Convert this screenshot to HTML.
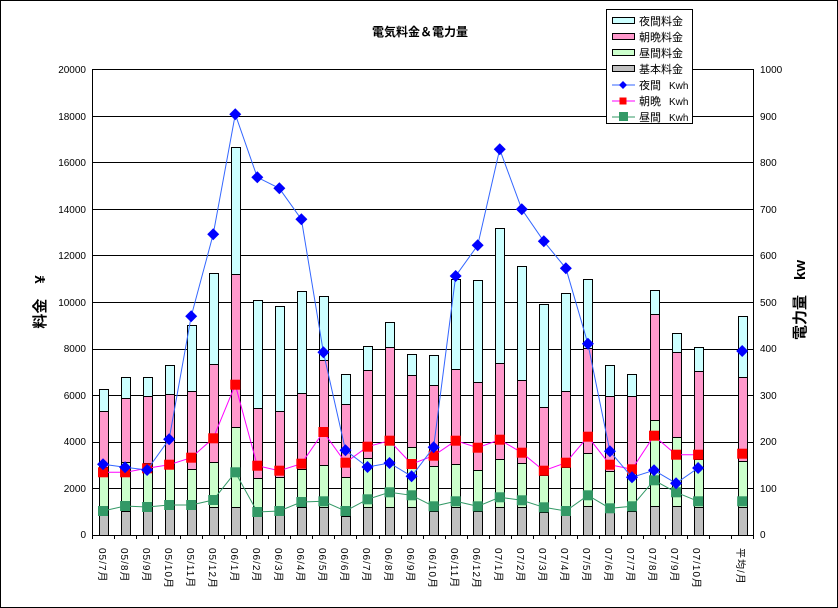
<!DOCTYPE html>
<html><head><meta charset="utf-8"><style>
body{margin:0;background:#fff}
svg{display:block;font-family:"Liberation Sans","Noto Sans CJK JP",sans-serif}
</style></head><body>
<svg id="c" width="838" height="608" xmlns="http://www.w3.org/2000/svg">
<rect x="0.5" y="0.5" width="837" height="607" fill="#fff" stroke="#000"/>
<g id="grid"></g>
<g id="bars"></g>
<g id="lines"></g>
<line x1="92.5" y1="69" x2="92.5" y2="535" stroke="#000"/>
<line x1="753.5" y1="69" x2="753.5" y2="535" stroke="#000"/>
<line x1="92" y1="535.5" x2="754" y2="535.5" stroke="#000"/>
<text x="420" y="36" font-size="12" font-weight="bold" text-anchor="middle">電気料金＆電力量</text>
<g font-size="10" text-anchor="end">
<text x="86" y="73">20000</text><text x="86" y="120">18000</text><text x="86" y="166">16000</text><text x="86" y="213">14000</text><text x="86" y="259">12000</text><text x="86" y="306">10000</text><text x="86" y="352">8000</text><text x="86" y="399">6000</text><text x="86" y="445">4000</text><text x="86" y="492">2000</text><text x="86" y="538">0</text>
</g>
<g font-size="10">
<text x="760" y="73">1000</text><text x="760" y="120">900</text><text x="760" y="166">800</text><text x="760" y="213">700</text><text x="760" y="259">600</text><text x="760" y="306">500</text><text x="760" y="352">400</text><text x="760" y="399">300</text><text x="760" y="445">200</text><text x="760" y="492">100</text><text x="760" y="538">0</text>
</g>
<text transform="translate(45,302) rotate(-90)" font-size="15" font-weight="bold" text-anchor="middle">料金　¥</text>
<text transform="translate(805,300) rotate(-90)" font-size="15" font-weight="bold" text-anchor="middle">電力量　kw</text>
<g font-size="10" letter-spacing="1" id="xl">
<text transform="translate(99,548) rotate(90)">05/7月</text>
<text transform="translate(121,548) rotate(90)">05/8月</text>
<text transform="translate(143,548) rotate(90)">05/9月</text>
<text transform="translate(165,548) rotate(90)">05/10月</text>
<text transform="translate(187,548) rotate(90)">05/11月</text>
<text transform="translate(209,548) rotate(90)">05/12月</text>
<text transform="translate(231,548) rotate(90)">06/1月</text>
<text transform="translate(253,548) rotate(90)">06/2月</text>
<text transform="translate(275,548) rotate(90)">06/3月</text>
<text transform="translate(297,548) rotate(90)">06/4月</text>
<text transform="translate(319,548) rotate(90)">06/5月</text>
<text transform="translate(341,548) rotate(90)">06/6月</text>
<text transform="translate(363,548) rotate(90)">06/7月</text>
<text transform="translate(385,548) rotate(90)">06/8月</text>
<text transform="translate(407,548) rotate(90)">06/9月</text>
<text transform="translate(429,548) rotate(90)">06/10月</text>
<text transform="translate(451,548) rotate(90)">06/11月</text>
<text transform="translate(473,548) rotate(90)">06/12月</text>
<text transform="translate(495,548) rotate(90)">07/1月</text>
<text transform="translate(517,548) rotate(90)">07/2月</text>
<text transform="translate(539,548) rotate(90)">07/3月</text>
<text transform="translate(561,548) rotate(90)">07/4月</text>
<text transform="translate(583,548) rotate(90)">07/5月</text>
<text transform="translate(605,548) rotate(90)">07/6月</text>
<text transform="translate(627,548) rotate(90)">07/7月</text>
<text transform="translate(649,548) rotate(90)">07/8月</text>
<text transform="translate(671,548) rotate(90)">07/9月</text>
<text transform="translate(693,548) rotate(90)">07/10月</text>
<text transform="translate(737,548) rotate(90)">平均/月</text>
</g>
<g id="leg">
<rect x="606.5" y="9.5" width="86" height="114" fill="#fff" stroke="#000"/>
<rect x="612.5" y="17.5" width="22" height="6" fill="#ccffff" stroke="#000"/>
<rect x="612.5" y="33.5" width="22" height="6" fill="#ff99cc" stroke="#000"/>
<rect x="612.5" y="49.5" width="22" height="6" fill="#ccffcc" stroke="#000"/>
<rect x="612.5" y="65.5" width="22" height="6" fill="#c0c0c0" stroke="#000"/>
<line x1="612" y1="85" x2="635" y2="85" stroke="#3366ff"/>
<polygon points="623,81 627,85 623,89 619,85" fill="#0000ff"/>
<line x1="612" y1="101" x2="635" y2="101" stroke="#ff00ff"/>
<rect x="619.5" y="97.5" width="7" height="7" fill="#ff0000"/>
<line x1="612" y1="117" x2="635" y2="117" stroke="#339966"/>
<rect x="619" y="112" width="9" height="9" fill="#339966"/>
<g font-size="11">
<text x="639" y="25">夜間料金</text><text x="639" y="41">朝晩料金</text><text x="639" y="57">昼間料金</text><text x="639" y="73">基本料金</text>
</g>
<g font-size="11">
<text x="639" y="89">夜間</text><text x="669" y="89" font-size="10">Kwh</text>
<text x="639" y="105">朝晩</text><text x="669" y="105" font-size="10">Kwh</text>
<text x="639" y="121">昼間</text><text x="669" y="121" font-size="10">Kwh</text>
</g>
</g>
</svg>
<script>
var ns="http://www.w3.org/2000/svg";
function el(p,t,a){var e=document.createElementNS(ns,t);for(var k in a)e.setAttribute(k,a[k]);p.appendChild(e);return e;}
var g=document.getElementById('grid');
for(var i=1;i<=10;i++){var y=Math.round(535-i*46.6)+0.5;el(g,'line',{x1:92,y1:y,x2:753,y2:y,stroke:'#000'});}
for(var i=0;i<=30;i++){var x=Math.round(92+i*22.04)+0.5;el(g,'line',{x1:x,y1:535,x2:x,y2:539,stroke:'#000'});}
var B=[[389.3,411,466.7,506.7],[377,397.7,461.7,510.7],[377,395.7,463.3,507],[365.3,393.7,460,507],[325.3,390.7,468.7,507],[273.3,363.7,462.3,506.7],[147.3,273.7,427,506.7],[300.3,408,478,506.7],[306.3,410.7,476.7,506.7],[291.3,392.7,468.7,506.7],
[296.3,359.7,465,506.7],[374.3,403.7,476.7,515.7],[346.3,369.7,457.7,506.7],[322.3,347,444.3,506.7],[354.3,375,447,506.7],[355.3,384.7,465.7,510.7],[279.3,368.7,464,506.7],[280.3,382,469.7,510.7],[228.3,363,458.7,506.7],[266.3,380,463.3,506.7],[304.3,406.7,474.7,511.7],
[293.3,391,466.7,506],[278.7,348.3,452.7,506],[365.3,396,470.7,510.7],[374.3,396,465,510.7],[290.3,314.3,420,506],[333.3,352,437.3,506],[347.3,371,459.3,506.7],null,[316.3,376.7,460.7,506.7]];
var blue=[464.3,467.3,470,439.3,316.3,234.3,114.3,177.3,188.3,219.3,352.3,450.3,467,463,476.3,447.3,276,245.3,149.3,209.3,241.3,268.3,343.7,451.3,477.3,470.3,483.3,468,null,351];
var red=[472.3,472.3,468.3,464.7,457.7,438.3,384.7,465.7,470.7,463.7,432,462.7,446.7,440.7,464,455.7,440.7,447.7,439.7,452.7,470.7,462.7,436.7,464.7,469.3,435.7,454.7,454.7,null,453.7];
var grn=[511,506,507,505,505,500,472.3,512,511,502,501.3,511,499.3,492.3,495.3,506.3,501.3,506.3,497.3,500.3,507.3,511,495.3,508.3,506.3,480.3,492.3,501.3,null,501.3];
function cx(i){return 92+11.02+i*22.04;}
var bg=document.getElementById('bars');
var cols=['#ccffff','#ff99cc','#ccffcc','#c0c0c0'];
B.forEach(function(b,i){if(!b)return;var x=Math.round(cx(i)-4.5)+0.5;
 var tops=b.concat([535]);
 for(var k=0;k<4;k++){el(bg,'rect',{x:x,y:Math.round(tops[k])+0.5,width:9,height:Math.round(tops[k+1])-Math.round(tops[k]),fill:cols[k],stroke:'#000'});}
});
var lg=document.getElementById('lines');
function series(d,col,mk){var pts=[];for(var i=0;i<28;i++)pts.push(cx(i).toFixed(1)+','+d[i]);
 el(lg,'polyline',{points:pts.join(' '),fill:'none',stroke:col,'stroke-width':1});
 d.forEach(function(v,i){if(v==null)return;mk(cx(i),v);});}
series(grn,'#339966',function(x,y){el(lg,'rect',{x:x-5,y:y-5,width:10,height:10,fill:'#339966'});});
series(red,'#ff00ff',function(x,y){el(lg,'rect',{x:x-5,y:y-5,width:10,height:10,fill:'#ff0000'});});
series(blue,'#3366ff',function(x,y){el(lg,'polygon',{points:x+','+(y-6)+' '+(x+6)+','+y+' '+x+','+(y+6)+' '+(x-6)+','+y,fill:'#0000ff'});});
var s=document.getElementById('c');s.appendChild(document.getElementById('leg'));
</script>
</body></html>
